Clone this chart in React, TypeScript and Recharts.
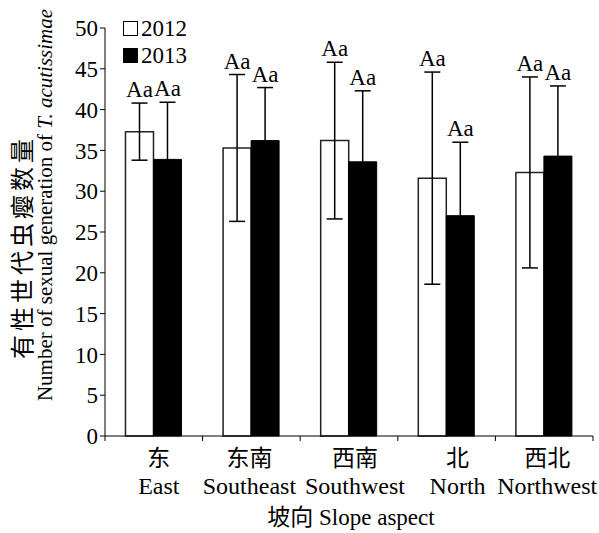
import { BarChart, Bar, XAxis, YAxis, ErrorBar, LabelList, Legend } from 'recharts'

const aspectsCn = ['东', '东南', '西南', '北', '西北']
const aspectsEn = ['East', 'Southeast', 'Southwest', 'North', 'Northwest']
const mean2012 = [37.3, 35.3, 36.2, 31.6, 32.3]
const err2012 = [3.5, 9.0, 9.6, 13.0, 11.7]
const mean2013 = [33.9, 36.2, 33.6, 27.0, 34.3]
const err2013 = [7.0, 6.5, 8.7, 9.0, 8.6]
const sig2012 = ['Aa', 'Aa', 'Aa', 'Aa', 'Aa']
const sig2013 = ['Aa', 'Aa', 'Aa', 'Aa', 'Aa']
const yTicks = [0, 5, 10, 15, 20, 25, 30, 35, 40, 45, 50]

const SERIF = '"Liberation Serif", "Times New Roman", "Noto Sans CJK SC", serif'

// the original nudges the category labels off-centre a little
const labelNudge = [5, -2, 6, 11, 3]

const data = aspectsCn.map((cn, i) => ({
  cn,
  en: aspectsEn[i],
  y2012: mean2012[i],
  e2012: err2012[i],
  y2013: mean2013[i],
  e2013: err2013[i],
}))

// "Aa" sits above the error bar cap
const sigLabel = (errs: number[], sigs: string[]) => (props: any) => {
  const { x, y, width, height, value, index } = props
  const perUnit = height / value
  const top = y + height - (value + errs[index]) * perUnit
  return (
    <text
      x={x + width / 2}
      y={top - 6}
      textAnchor="middle"
      fontFamily={SERIF}
      fontSize={23}
      fill="#000"
    >
      {sigs[index]}
    </text>
  )
}

// category labels + tick marks on the category boundaries
const CategoryTick = (props: any) => {
  const { x, y, payload, width, visibleTicksCount } = props
  const i = payload.index
  const band = width / visibleTicksCount
  const lx = x + labelNudge[i]
  return (
    <g>
      <line x1={x - band / 2} x2={x - band / 2} y1={y} y2={y + 5} stroke="#000" />
      {i === visibleTicksCount - 1 && (
        <line x1={x + band / 2} x2={x + band / 2} y1={y} y2={y + 5} stroke="#000" />
      )}
      <text x={lx} y={y + 30} textAnchor="middle" fontFamily={SERIF} fontSize={23} fill="#000">
        {aspectsCn[i]}
      </text>
      <text x={lx} y={y + 58} textAnchor="middle" fontFamily={SERIF} fontSize={24} fill="#000">
        {aspectsEn[i]}
      </text>
    </g>
  )
}

const LegendBox = () => (
  <div style={{ fontFamily: SERIF, fontSize: 23, color: '#000', lineHeight: '27px' }}>
    {[
      { name: '2012', fill: '#fff' },
      { name: '2013', fill: '#000' },
    ].map((s) => (
      <div key={s.name} style={{ display: 'flex', alignItems: 'center', height: 27 }}>
        <span
          style={{
            display: 'inline-block',
            width: 13,
            height: 13,
            border: '1px solid #000',
            background: s.fill,
            marginRight: 3,
          }}
        />
        {s.name}
      </div>
    ))}
  </div>
)

export default function App() {
  return (
    <div style={{ position: 'absolute', left: 0, top: 0, background: '#fff' }}>
      <BarChart
        width={599}
        height={533}
        data={data}
        margin={{ top: 28, right: 6, left: 0, bottom: 0 }}
        barCategoryGap="21%"
        barGap={0}
      >
        <XAxis
          dataKey="cn"
          height={97}
          stroke="#000"
          axisLine={{ stroke: '#000' }}
          tickLine={false}
          tickSize={0}
          tickMargin={0}
          tick={<CategoryTick />}
          interval={0}
          label={{
            content: () => (
              <text x={351} y={525} textAnchor="middle" fontFamily={SERIF} fontSize={23} fill="#000">
                坡向 Slope aspect
              </text>
            ),
          }}
        />
        <YAxis
          width={105}
          domain={[0, 50]}
          ticks={yTicks}
          interval={0}
          tickSize={5}
          tickMargin={2}
          stroke="#000"
          tick={{ fontFamily: SERIF, fontSize: 23, fill: '#000' }}
          label={{
            content: () => (
              <g>
                <text
                  x={31}
                  y={247}
                  transform="rotate(-90, 31, 247)"
                  textAnchor="middle"
                  fontFamily={SERIF}
                  fontSize={24}
                  letterSpacing={4}
                  fill="#000"
                >
                  有性世代虫瘿数量
                </text>
                <text
                  x={52}
                  y={205}
                  transform="rotate(-90, 52, 205)"
                  textAnchor="middle"
                  fontFamily={SERIF}
                  fontSize={21}
                  fill="#000"
                >
                  Number of sexual generation of <tspan fontStyle="italic">T. acutissimae</tspan>
                </text>
              </g>
            ),
          }}
        />
        <Legend
          layout="vertical"
          align="center"
          verticalAlign="middle"
          content={<LegendBox />}
          wrapperStyle={{ position: 'absolute', top: 15, left: 123, width: 'auto' }}
        />
        <Bar dataKey="y2012" name="2012" fill="#fff" stroke="#222" strokeWidth={1.5} isAnimationActive={false}>
          <ErrorBar dataKey="e2012" width={8} stroke="#000" strokeWidth={1.5} isAnimationActive={false} />
          <LabelList dataKey="y2012" content={sigLabel(err2012, sig2012)} />
        </Bar>
        <Bar dataKey="y2013" name="2013" fill="#000" stroke="#000" strokeWidth={1} isAnimationActive={false}>
          <ErrorBar dataKey="e2013" width={8} stroke="#000" strokeWidth={1.5} isAnimationActive={false} />
          <LabelList dataKey="y2013" content={sigLabel(err2013, sig2013)} />
        </Bar>
      </BarChart>
    </div>
  )
}
